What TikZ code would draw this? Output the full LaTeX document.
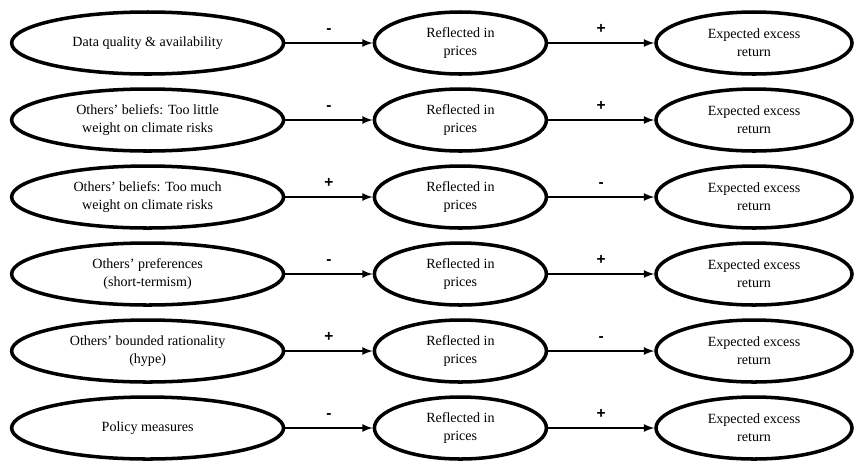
\documentclass[tikz,border=0pt]{standalone}
\usepackage{fontspec}
\setmainfont{Liberation Serif}
\newfontfamily\signfont{Liberation Sans}
\usetikzlibrary{shapes,arrows}
\newcommand{\sgn}[1]{ {\signfont\bfseries #1} }

\begin{document}
\begin{tikzpicture}[auto,
    cause/.style={ellipse, draw, line width=2.5pt, inner sep=0pt, minimum width=6.8cm, minimum height=1.55cm, align=center, font=\fontsize{10}{13}\selectfont},
    price/.style={cause, minimum width=4.3cm},
    excess/.style={cause, minimum width=4.9cm},
    link/.style={-latex, line width=1.5pt},
    sign/.style={font=\fontsize{11}{12}\selectfont, inner sep=6pt}]
    \useasboundingbox (0,0) rectangle (21.4,-11.85);

	\node[cause] at (3.69,-1.075) (data) {Data quality \& availability};
	\node[cause, below of=data, node distance=1.925cm] (little) {Others' beliefs: Too little\\weight on climate risks};
	\node[cause, below of=little, node distance=1.925cm] (much) {Others' beliefs: Too much\\weight on climate risks};
	\node[cause, below of=much, node distance=1.925cm] (pref) {Others' preferences\\(short-termism)};
	\node[cause, below of=pref, node distance=1.925cm] (hype) {Others' bounded rationality\\(hype)};
	\node[cause, below of=hype, node distance=1.925cm] (policy) {Policy measures};

	\node[price, right of=data, node distance=7.82cm] (pdata) {Reflected in\\prices};
	\node[price, right of=little, node distance=7.82cm] (plittle) {Reflected in\\prices};
	\node[price, right of=much, node distance=7.82cm] (pmuch) {Reflected in\\prices};
	\node[price, right of=pref, node distance=7.82cm] (ppref) {Reflected in\\prices};
	\node[price, right of=hype, node distance=7.82cm] (phype) {Reflected in\\prices};
	\node[price, right of=policy, node distance=7.82cm] (ppolicy) {Reflected in\\prices};

	\node[excess, right of=pdata, node distance=7.34cm] (rdata) {Expected excess\\return};
	\node[excess, right of=plittle, node distance=7.34cm] (rlittle) {Expected excess\\return};
	\node[excess, right of=pmuch, node distance=7.34cm] (rmuch) {Expected excess\\return};
	\node[excess, right of=ppref, node distance=7.34cm] (rpref) {Expected excess\\return};
	\node[excess, right of=phype, node distance=7.34cm] (rhype) {Expected excess\\return};
	\node[excess, right of=ppolicy, node distance=7.34cm] (rpolicy) {Expected excess\\return};

    \draw[link] (data) -- node[sign] {\sgn{-}} (pdata);
    \draw[link] (little) -- node[sign] {\sgn{-}} (plittle);
    \draw[link] (much) -- node[sign] {\sgn{+}} (pmuch);
    \draw[link] (pref) -- node[sign] {\sgn{-}} (ppref);
    \draw[link] (hype) -- node[sign] {\sgn{+}} (phype);
    \draw[link] (policy) -- node[sign] {\sgn{-}} (ppolicy);

    \draw[link] (pdata) -- node[sign] {\sgn{+}} (rdata);
    \draw[link] (plittle) -- node[sign] {\sgn{+}} (rlittle);
    \draw[link] (pmuch) -- node[sign] {\sgn{-}} (rmuch);
    \draw[link] (ppref) -- node[sign] {\sgn{+}} (rpref);
    \draw[link] (phype) -- node[sign] {\sgn{-}} (rhype);
    \draw[link] (ppolicy) -- node[sign] {\sgn{+}} (rpolicy);
\end{tikzpicture}
\end{document}
